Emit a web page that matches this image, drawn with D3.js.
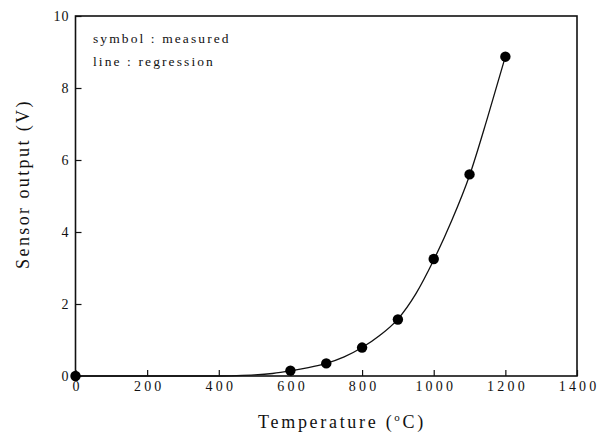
<!DOCTYPE html>
<html>
<head>
<meta charset="utf-8">
<script src="https://cdn.jsdelivr.net/npm/d3@7"></script>
<style>
  html, body { margin: 0; padding: 0; background: #fff; }
  svg { display: block; }
  svg text { font-family: "Liberation Serif", "Times New Roman", "DejaVu Serif", serif !important; fill: #111; }
</style>
</head>
<body>
<svg id="chart" width="608" height="436"></svg>
<script>
// Measured sensor output at each temperature
const measuredTemp = [0, 600, 700, 800, 900, 1000, 1100, 1200];
const measuredVolt = [0.0, 0.15, 0.35, 0.79, 1.57, 3.25, 5.60, 8.87];

// Regression curve samples
const fitTemp = [0, 200, 400, 450, 500, 550, 600, 650, 700, 750, 800, 850, 900, 950, 1000, 1050, 1100, 1150, 1200];
const fitVolt = [0.0, 0.0, 0.0, 0.01, 0.03, 0.07, 0.14, 0.23, 0.35, 0.53, 0.79, 1.13, 1.58, 2.28, 3.22, 4.31, 5.57, 7.17, 8.87];

// Axis ticks
const xTicks = [0, 200, 400, 600, 800, 1000, 1200, 1400];
const yTicks = [0, 2, 4, 6, 8, 10];

const legendLines = ["symbol : measured", "line : regression"];

const serif = "'Liberation Serif', 'Times New Roman', 'DejaVu Serif', serif";

const svg = d3.select("#chart");
const plotLeft = 75.5, plotRight = 577, plotTop = 16, plotBottom = 376;

const x = d3.scaleLinear().domain([0, 1400]).range([plotLeft, plotRight]);
const y = d3.scaleLinear().domain([0, 10]).range([plotBottom, plotTop]);

// Frame
svg.append("rect")
  .attr("x", plotLeft).attr("y", plotTop)
  .attr("width", plotRight - plotLeft).attr("height", plotBottom - plotTop)
  .attr("fill", "none").attr("stroke", "#111").attr("stroke-width", 1.6);

// Bottom axis, ticks pointing inward
const xAxis = svg.append("g")
  .attr("transform", `translate(0,${plotBottom})`)
  .call(d3.axisBottom(x).tickValues(xTicks).tickFormat(d3.format("d"))
    .tickSizeInner(-6).tickSizeOuter(0).tickPadding(5));
xAxis.attr("font-family", serif);
xAxis.select(".domain").remove();
xAxis.selectAll("line").attr("stroke", "#111").attr("stroke-width", 1.2);
xAxis.selectAll("text")
  .attr("font-size", 14).attr("letter-spacing", 3.2).attr("fill", "#222")
  .style("font-family", serif)
  .attr("dx", 1.6);

// Left axis, ticks pointing inward
const yAxis = svg.append("g")
  .attr("transform", `translate(${plotLeft},0)`)
  .call(d3.axisLeft(y).tickValues(yTicks).tickFormat(d3.format("d"))
    .tickSizeInner(-6).tickSizeOuter(0).tickPadding(6));
yAxis.attr("font-family", serif);
yAxis.select(".domain").remove();
yAxis.selectAll("line").attr("stroke", "#111").attr("stroke-width", 1.2);
yAxis.selectAll("text")
  .attr("font-size", 14).attr("letter-spacing", 1).attr("fill", "#222")
  .style("font-family", serif);

// Regression line
const fitData = fitTemp.map((t, i) => ({ t, v: fitVolt[i] }));
svg.append("path")
  .datum(fitData)
  .attr("fill", "none")
  .attr("stroke", "#111")
  .attr("stroke-width", 1.3)
  .attr("d", d3.line().x(d => x(d.t)).y(d => y(d.v)).curve(d3.curveMonotoneX));

// Measured symbols
const measured = measuredTemp.map((t, i) => ({ t, v: measuredVolt[i] }));
svg.append("g").selectAll("circle")
  .data(measured)
  .join("circle")
  .attr("cx", d => x(d.t))
  .attr("cy", d => y(d.v))
  .attr("r", 5.2)
  .attr("fill", "#000");

// Legend text
svg.append("g").selectAll("text")
  .data(legendLines)
  .join("text")
  .attr("x", 93)
  .attr("y", (d, i) => 43 + i * 23)
  .attr("font-size", 13.5)
  .attr("letter-spacing", 2.1)
  .attr("fill", "#222")
  .style("font-family", serif)
  .text(d => d);

// Axis titles
const xTitle = svg.append("text")
  .attr("x", 342).attr("y", 428)
  .attr("text-anchor", "middle")
  .attr("font-size", 18)
  .attr("letter-spacing", 2.7)
  .style("font-family", serif);
xTitle.append("tspan").text("Temperature (");
xTitle.append("tspan").attr("font-size", 11).attr("dy", -7).text("o");
xTitle.append("tspan").attr("dy", 7).text("C)");

svg.append("text")
  .attr("transform", `translate(29,184) rotate(-90)`)
  .attr("text-anchor", "middle")
  .attr("font-size", 18)
  .attr("letter-spacing", 2.4)
  .style("font-family", serif)
  .text("Sensor output (V)");
</script>
</body>
</html>
